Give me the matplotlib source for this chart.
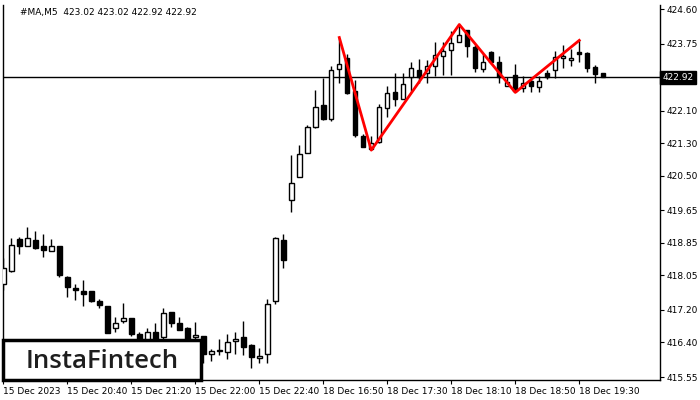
import matplotlib.pyplot as plt
import matplotlib.transforms as mtransforms
from matplotlib.patches import Rectangle
import numpy as np

# M5 candles, 15 Dec 20:00 .. 18 Dec 19:45
opens = [417.83, 418.16, 418.94, 418.77, 418.92, 418.78, 418.64, 418.78, 418.01, 417.74,
         417.66, 417.67, 417.43, 417.29, 416.76, 416.92, 416.99, 416.61, 416.45, 416.65,
         416.53, 417.14, 416.87, 416.76, 416.53, 416.55, 416.11, 416.19, 416.16, 416.43,
         416.53, 416.34, 416.02, 416.11, 417.41, 418.91, 419.90, 420.46, 421.05, 421.69,
         422.23, 421.90, 423.12, 423.39, 422.58, 421.47, 421.17, 421.33, 422.16, 422.56,
         422.38, 422.92, 423.09, 423.02, 423.21, 423.45, 423.59, 423.80, 424.08, 423.66,
         423.12, 423.54, 423.29, 422.71, 422.99, 422.66, 422.84, 422.69, 423.02, 423.09,
         423.39, 423.34, 423.54, 423.51, 423.17, 423.02]
highs = [418.48, 418.97, 418.99, 419.24, 419.14, 419.07, 418.94, 418.78, 418.03, 417.84,
         417.94, 417.67, 417.47, 417.30, 417.02, 417.36, 417.00, 416.66, 416.76, 416.87,
         417.24, 417.16, 417.03, 416.79, 416.90, 416.56, 416.23, 416.48, 416.60, 416.66,
         416.93, 416.36, 416.26, 417.47, 418.99, 419.07, 421.01, 421.25, 421.74, 422.61,
         422.90, 423.21, 423.90, 423.49, 422.85, 421.53, 421.49, 422.26, 422.71, 423.02,
         423.02, 423.29, 423.36, 423.34, 423.78, 423.78, 424.06, 424.22, 424.08, 423.71,
         423.49, 423.57, 423.44, 422.94, 423.24, 422.96, 422.90, 422.96, 423.10, 423.57,
         423.71, 423.62, 423.83, 423.55, 423.22, 423.02]
lows = [417.69, 418.14, 418.58, 418.77, 418.71, 418.49, 418.64, 418.00, 417.51, 417.44,
        417.30, 417.39, 417.26, 416.63, 416.66, 416.89, 416.55, 416.35, 416.40, 416.38,
        416.45, 416.79, 416.70, 416.40, 416.44, 415.90, 415.95, 416.09, 415.99, 416.12,
        416.09, 415.78, 415.89, 415.89, 417.34, 418.24, 419.61, 420.46, 421.05, 421.67,
        421.88, 421.85, 422.77, 422.52, 421.46, 421.20, 421.13, 421.30, 421.95, 422.22,
        422.38, 422.59, 422.77, 422.77, 422.95, 422.99, 422.98, 423.80, 423.43, 423.06,
        423.04, 423.26, 422.77, 422.71, 422.55, 422.55, 422.55, 422.55, 422.87, 422.90,
        423.15, 423.20, 423.30, 423.06, 422.78, 422.92]
closes = [418.24, 418.80, 418.78, 418.97, 418.73, 418.67, 418.77, 418.05, 417.76, 417.68,
          417.59, 417.42, 417.33, 416.64, 416.89, 416.99, 416.60, 416.41, 416.66, 416.44,
          417.12, 416.87, 416.71, 416.44, 416.58, 416.11, 416.20, 416.21, 416.40, 416.48,
          416.28, 416.05, 416.07, 417.34, 418.96, 418.42, 420.31, 421.03, 421.69, 422.18,
          421.90, 423.09, 423.24, 422.54, 421.51, 421.20, 421.30, 422.18, 422.53, 422.39,
          422.75, 423.14, 422.92, 423.21, 423.47, 423.57, 423.77, 423.96, 423.70, 423.16,
          423.31, 423.29, 422.94, 422.81, 422.58, 422.79, 422.71, 422.83, 422.94, 423.43,
          423.44, 423.40, 423.50, 423.16, 423.01, 422.92]

time_labels = ["15 Dec 2023", "15 Dec 20:40", "15 Dec 21:20", "15 Dec 22:00", "15 Dec 22:40",
               "18 Dec 16:50", "18 Dec 17:30", "18 Dec 18:10", "18 Dec 18:50", "18 Dec 19:30"]
label_step = 8

price_ticks = [424.60, 423.75, 422.10, 421.30, 420.50, 419.65, 418.85, 418.05, 417.20, 416.40, 415.55]
last_price = 422.92

# triple top pattern: high, low, high, low, high
pattern_idx = [42, 46, 57, 64, 72]
pattern_px = [highs[42], lows[46], highs[57], lows[64], highs[72]]

fig = plt.figure(figsize=(7, 4), dpi=100)
ax = fig.add_axes([3 / 700, 20 / 400, 657 / 700, 375 / 400])

x = np.arange(len(opens))
o = np.array(opens)
c = np.array(closes)
up = c >= o

ax.axhline(last_price, color='black', lw=1, zorder=1)
ax.vlines(x, lows, highs, color='black', lw=1, zorder=2)
ax.bar(x, np.abs(c - o), bottom=np.minimum(o, c), width=0.55,
       color=np.where(up, 'white', 'black'), edgecolor='black', linewidth=1, zorder=3)

ax.plot(pattern_idx, pattern_px, color='#ff0000', lw=2, zorder=4)

ax.set_xlim(-0.04, 82.09)
ax.set_ylim(415.477, 424.70)

ax.spines['top'].set_visible(False)
for s in ['left', 'right', 'bottom']:
    ax.spines[s].set_linewidth(1)

ax.yaxis.tick_right()
ax.set_yticks(price_ticks, [f"{p:.2f}" for p in price_ticks])
ax.tick_params(axis='y', direction='out', length=3, pad=2, labelsize=6.5)
ax.set_xticks(np.arange(len(time_labels)) * label_step, time_labels)
ax.tick_params(axis='x', direction='out', length=3, pad=2, labelsize=6.5)
for lab in ax.get_xticklabels():
    lab.set_horizontalalignment('left')

# last price box on the price scale
trans = mtransforms.blended_transform_factory(ax.transAxes, ax.transData)
ax.text(1.004, last_price, f"{last_price:.2f}", transform=trans, fontsize=6.5, color='white',
        va='center', ha='left', bbox=dict(boxstyle='square,pad=0.25', fc='black', ec='black'))

fig.text(20 / 700, 1 - 12 / 400, "#MA,M5  423.02 423.02 422.92 422.92", fontsize=6.5, va='center')

# logo
fig.patches.append(Rectangle((3 / 700, 20 / 400), 198 / 700, 40 / 400, transform=fig.transFigure,
                             fc='white', ec='black', lw=2.5, zorder=5))
fig.text(102 / 700, 39 / 400, "InstaFintech", fontsize=18.5, color='#1e1e1e', family='Open Sans',
         fontweight='semibold', ha='center', va='center', zorder=6)

fig.savefig('out.png', dpi=100)
